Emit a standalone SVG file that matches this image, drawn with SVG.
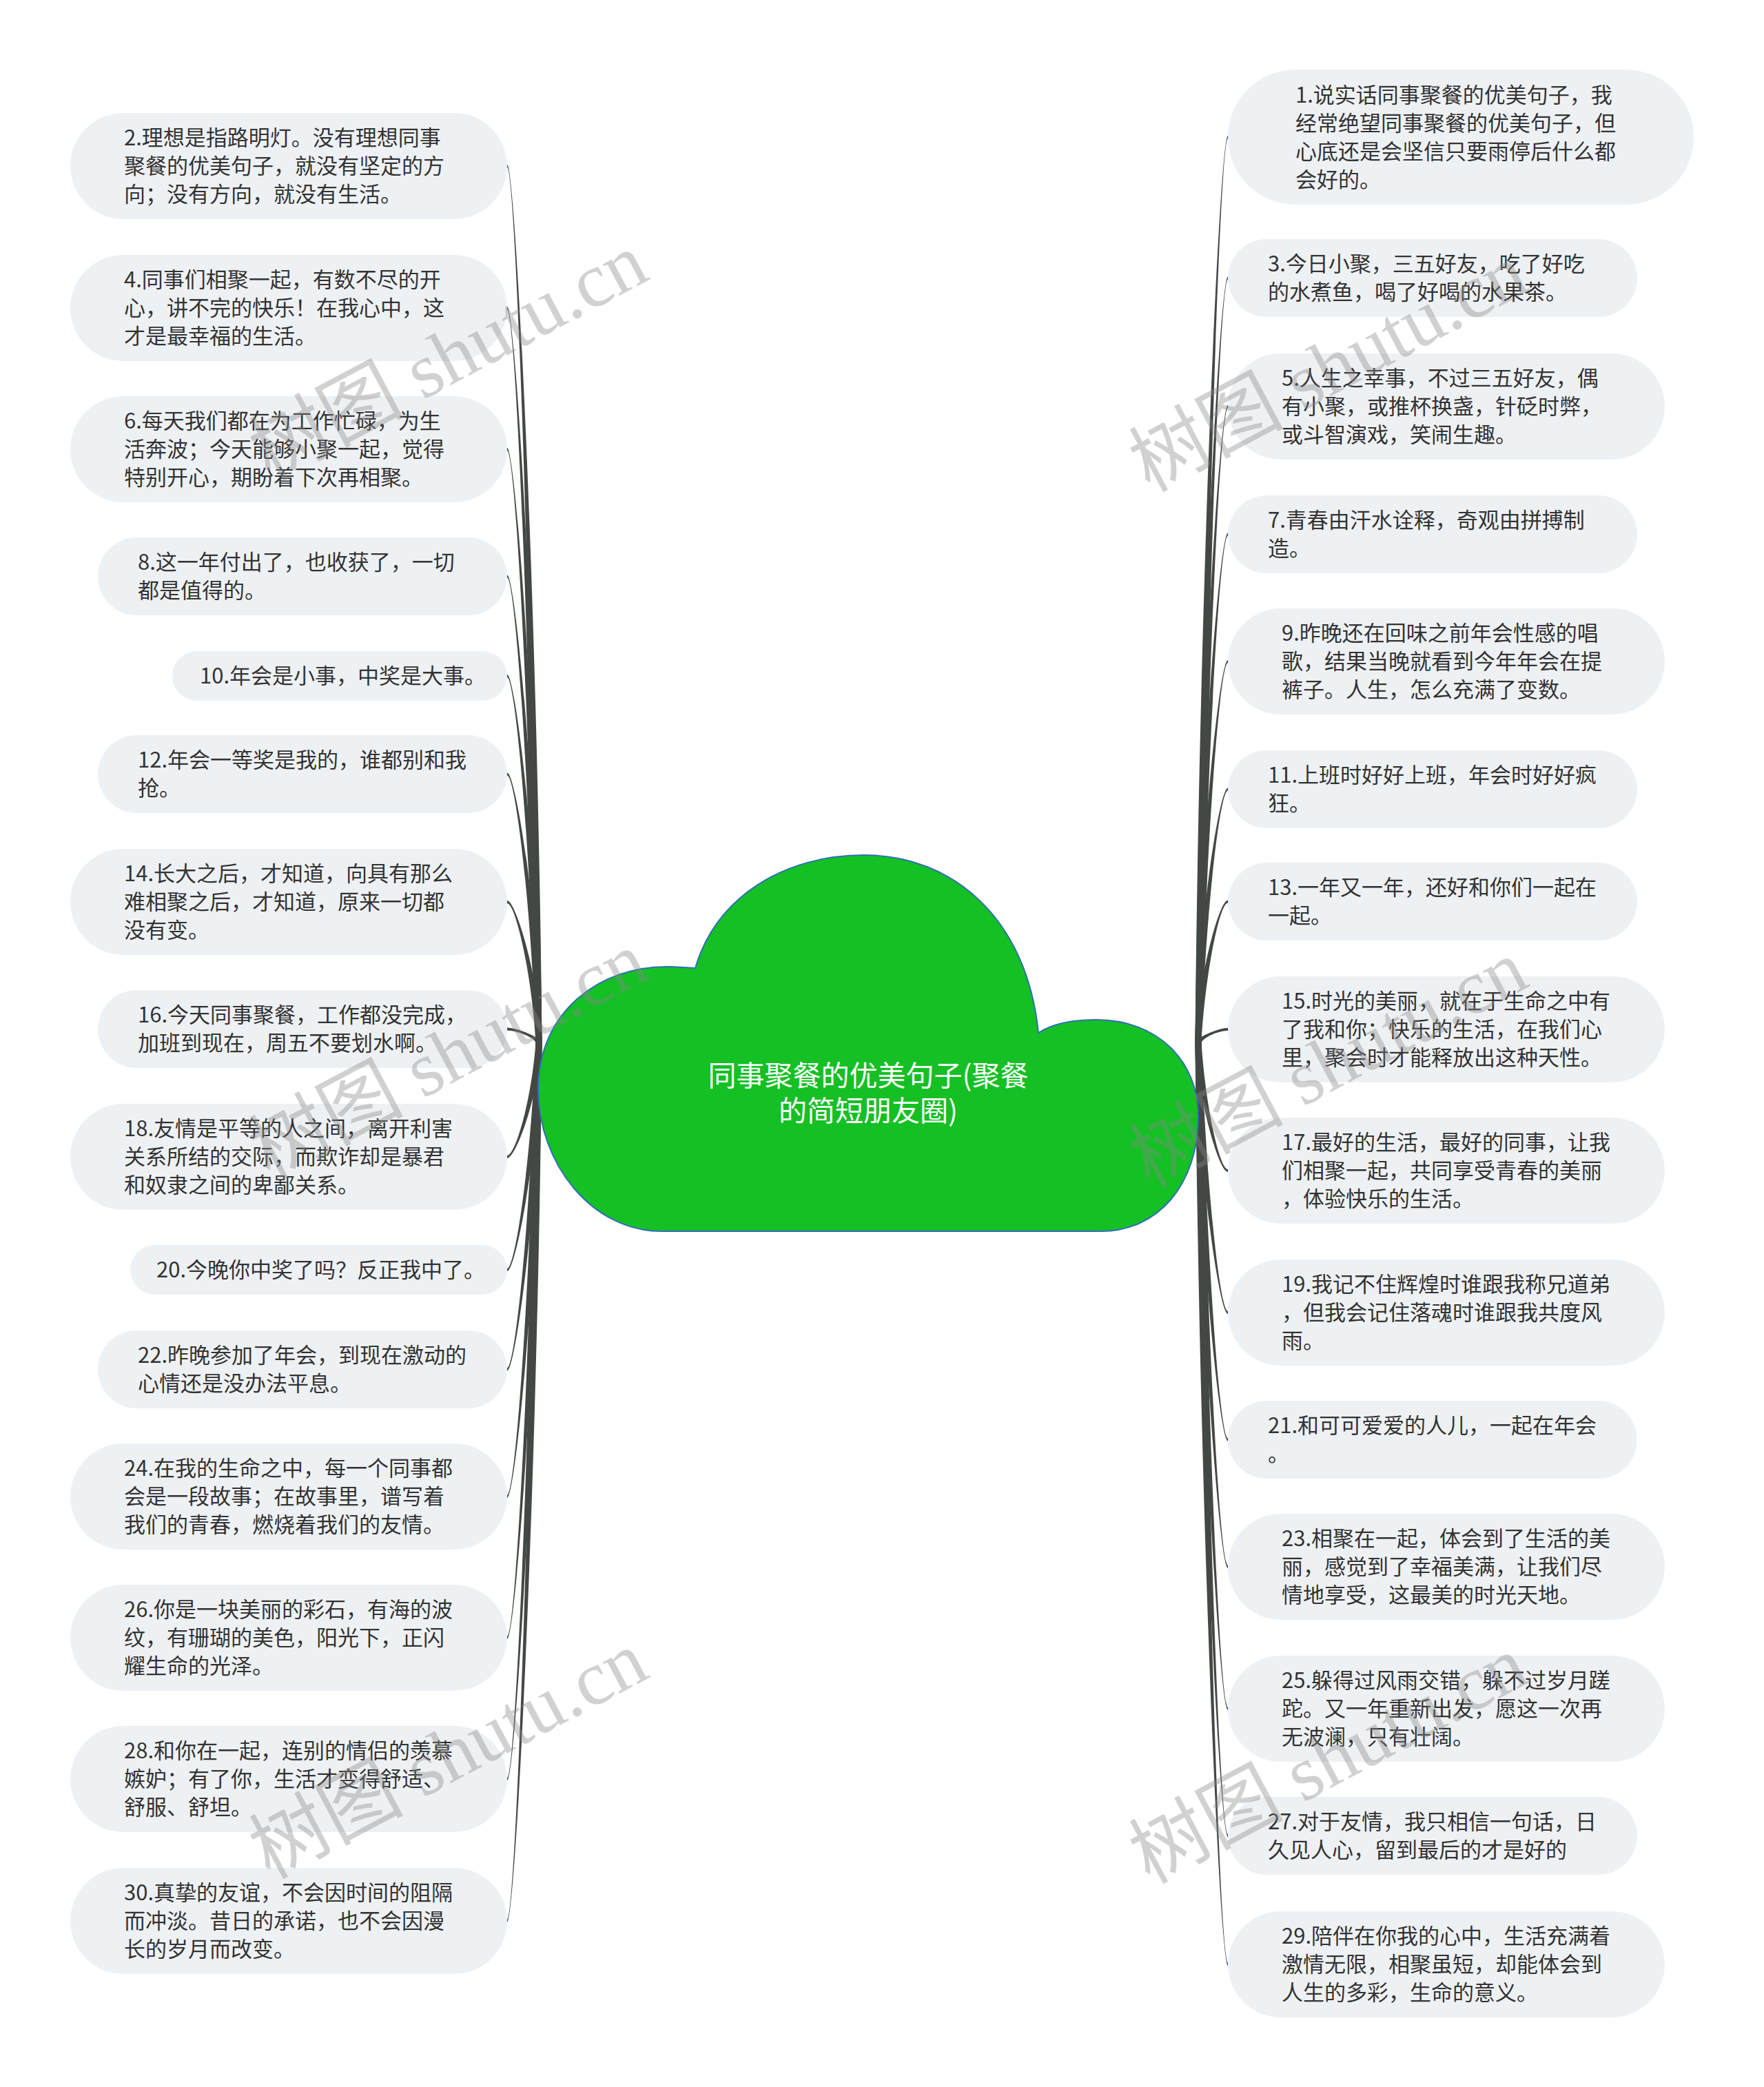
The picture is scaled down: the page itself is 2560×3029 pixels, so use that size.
<svg xmlns="http://www.w3.org/2000/svg" width="2560" height="3029" viewBox="0 0 2560 3029">
<style>
.bg{fill:#ffffff}
.nd rect{fill:#eef1f4}
.nd text{font-family:"Noto Sans CJK SC","Noto Sans",sans-serif;font-size:31px;fill:#333333}
.ln path{fill:#444844}
.ct{font-family:"Noto Sans CJK SC","Noto Sans",sans-serif;font-size:41px;fill:#ffffff;text-anchor:middle}
.wm{font-family:"Liberation Serif","Noto Sans CJK SC",serif;font-size:112px;fill:#888888;opacity:0.38}
</style>
<rect class="bg" x="0" y="0" width="2560" height="3029"/>
<g id="connectors" class="ln">
<path d="M736 239C748 239 780.5 877 786.5 1513L777.5 1513C771.5 877 748 243 736 243Z"/>
<path d="M736 445C748 445 780.5 980 786.5 1513L777.5 1513C771.5 980 748 449 736 449Z"/>
<path d="M736 650C748 650 780.5 1082.5 786.5 1513L777.5 1513C771.5 1082.5 748 654 736 654Z"/>
<path d="M736 834.5C748 834.5 780.5 1174.8 786.5 1513L777.5 1513C771.5 1174.8 748 838.5 736 838.5Z"/>
<path d="M736 979C748 979 780.5 1247 786.5 1513L777.5 1513C771.5 1247 748 983 736 983Z"/>
<path d="M736 1121.5C748 1121.5 780.5 1318.3 786.5 1513L777.5 1513C771.5 1318.3 748 1125.5 736 1125.5Z"/>
<path d="M736 1307C748 1307 780.5 1411 786.5 1513L777.5 1513C771.5 1411 748 1311 736 1311Z"/>
<path d="M736 1491.5C748 1491.5 780.5 1503.3 786.5 1513L777.5 1513C771.5 1503.3 748 1495.5 736 1495.5Z"/>
<path d="M736 1677C748 1677 771.5 1596 777.5 1513L786.5 1513C780.5 1596 748 1681 736 1681Z"/>
<path d="M736 1841C748 1841 771.5 1678 777.5 1513L786.5 1513C780.5 1678 748 1845 736 1845Z"/>
<path d="M736 1985.5C748 1985.5 771.5 1750.3 777.5 1513L786.5 1513C780.5 1750.3 748 1989.5 736 1989.5Z"/>
<path d="M736 2170C748 2170 771.5 1842.5 777.5 1513L786.5 1513C780.5 1842.5 748 2174 736 2174Z"/>
<path d="M736 2375C748 2375 771.5 1945 777.5 1513L786.5 1513C780.5 1945 748 2379 736 2379Z"/>
<path d="M736 2580C748 2580 771.5 2047.5 777.5 1513L786.5 1513C780.5 2047.5 748 2584 736 2584Z"/>
<path d="M736 2786C748 2786 771.5 2150.5 777.5 1513L786.5 1513C780.5 2150.5 748 2790 736 2790Z"/>
<path d="M1782 197C1770 197 1740.5 856 1734.5 1513L1743.5 1513C1749.5 856 1770 201 1782 201Z"/>
<path d="M1782 401.5C1770 401.5 1740.5 958.3 1734.5 1513L1743.5 1513C1749.5 958.3 1770 405.5 1782 405.5Z"/>
<path d="M1782 588C1770 588 1740.5 1051.5 1734.5 1513L1743.5 1513C1749.5 1051.5 1770 592 1782 592Z"/>
<path d="M1782 773.5C1770 773.5 1740.5 1144.3 1734.5 1513L1743.5 1513C1749.5 1144.3 1770 777.5 1782 777.5Z"/>
<path d="M1782 958C1770 958 1740.5 1236.5 1734.5 1513L1743.5 1513C1749.5 1236.5 1770 962 1782 962Z"/>
<path d="M1782 1143.5C1770 1143.5 1740.5 1329.3 1734.5 1513L1743.5 1513C1749.5 1329.3 1770 1147.5 1782 1147.5Z"/>
<path d="M1782 1306.5C1770 1306.5 1740.5 1410.8 1734.5 1513L1743.5 1513C1749.5 1410.8 1770 1310.5 1782 1310.5Z"/>
<path d="M1782 1492C1770 1492 1740.5 1503.5 1734.5 1513L1743.5 1513C1749.5 1503.5 1770 1496 1782 1496Z"/>
<path d="M1782 1697C1770 1697 1749.5 1606 1743.5 1513L1734.5 1513C1740.5 1606 1770 1701 1782 1701Z"/>
<path d="M1782 1903C1770 1903 1749.5 1709 1743.5 1513L1734.5 1513C1740.5 1709 1770 1907 1782 1907Z"/>
<path d="M1782 2087.5C1770 2087.5 1749.5 1801.3 1743.5 1513L1734.5 1513C1740.5 1801.3 1770 2091.5 1782 2091.5Z"/>
<path d="M1782 2272C1770 2272 1749.5 1893.5 1743.5 1513L1734.5 1513C1740.5 1893.5 1770 2276 1782 2276Z"/>
<path d="M1782 2478C1770 2478 1749.5 1996.5 1743.5 1513L1734.5 1513C1740.5 1996.5 1770 2482 1782 2482Z"/>
<path d="M1782 2662.5C1770 2662.5 1749.5 2088.8 1743.5 1513L1734.5 1513C1740.5 2088.8 1770 2666.5 1782 2666.5Z"/>
<path d="M1782 2849C1770 2849 1749.5 2182 1743.5 1513L1734.5 1513C1740.5 2182 1770 2853 1782 2853Z"/>
</g>
<g id="center">
<path d="M960 1787C860 1787 781 1690 781 1580C781 1470 870 1400 974 1403L1009 1405C1040 1300 1140 1241 1254 1241C1380 1241 1490 1330 1507 1499C1530 1484 1560 1480 1591 1480C1680 1480 1739 1540 1739 1620C1739 1720 1680 1787 1598 1787Z" fill="#14c024" stroke="#2f6fb8" stroke-width="2"/>
<text class="ct" x="1260" y="1576">同事聚餐的优美句子(聚餐<tspan x="1260" dy="51">的简短朋友圈)</tspan></text>
</g>
<g id="n2" class="nd"><rect x="102" y="164" width="634" height="154" rx="77"/><text x="180" y="211">2.理想是指路明灯。没有理想同事<tspan x="180" dy="41">聚餐的优美句子，就没有坚定的方</tspan><tspan x="180" dy="41">向；没有方向，就没有生活。</tspan></text></g>
<g id="n4" class="nd"><rect x="102" y="370" width="634" height="154" rx="77"/><text x="180" y="417">4.同事们相聚一起，有数不尽的开<tspan x="180" dy="41">心，讲不完的快乐！在我心中，这</tspan><tspan x="180" dy="41">才是最幸福的生活。</tspan></text></g>
<g id="n6" class="nd"><rect x="102" y="575" width="634" height="154" rx="77"/><text x="180" y="622">6.每天我们都在为工作忙碌，为生<tspan x="180" dy="41">活奔波；今天能够小聚一起，觉得</tspan><tspan x="180" dy="41">特别开心，期盼着下次再相聚。</tspan></text></g>
<g id="n8" class="nd"><rect x="142" y="780" width="594" height="113" rx="56.5"/><text x="200" y="827">8.这一年付出了，也收获了，一切<tspan x="200" dy="41">都是值得的。</tspan></text></g>
<g id="n10" class="nd"><rect x="250" y="945" width="486" height="72" rx="36"/><text x="290" y="992">10.年会是小事，中奖是大事。</text></g>
<g id="n12" class="nd"><rect x="142" y="1067" width="594" height="113" rx="56.5"/><text x="200" y="1114">12.年会一等奖是我的，谁都别和我<tspan x="200" dy="41">抢。</tspan></text></g>
<g id="n14" class="nd"><rect x="102" y="1232" width="634" height="154" rx="77"/><text x="180" y="1279">14.长大之后，才知道，向具有那么<tspan x="180" dy="41">难相聚之后，才知道，原来一切都</tspan><tspan x="180" dy="41">没有变。</tspan></text></g>
<g id="n16" class="nd"><rect x="142" y="1437" width="594" height="113" rx="56.5"/><text x="200" y="1484">16.今天同事聚餐，工作都没完成，<tspan x="200" dy="41">加班到现在，周五不要划水啊。</tspan></text></g>
<g id="n18" class="nd"><rect x="102" y="1602" width="634" height="154" rx="77"/><text x="180" y="1649">18.友情是平等的人之间，离开利害<tspan x="180" dy="41">关系所结的交际，而欺诈却是暴君</tspan><tspan x="180" dy="41">和奴隶之间的卑鄙关系。</tspan></text></g>
<g id="n20" class="nd"><rect x="189" y="1807" width="547" height="72" rx="36"/><text x="227" y="1854">20.今晚你中奖了吗？反正我中了。</text></g>
<g id="n22" class="nd"><rect x="142" y="1931" width="594" height="113" rx="56.5"/><text x="200" y="1978">22.昨晚参加了年会，到现在激动的<tspan x="200" dy="41">心情还是没办法平息。</tspan></text></g>
<g id="n24" class="nd"><rect x="102" y="2095" width="634" height="154" rx="77"/><text x="180" y="2142">24.在我的生命之中，每一个同事都<tspan x="180" dy="41">会是一段故事；在故事里，谱写着</tspan><tspan x="180" dy="41">我们的青春，燃烧着我们的友情。</tspan></text></g>
<g id="n26" class="nd"><rect x="102" y="2300" width="634" height="154" rx="77"/><text x="180" y="2347">26.你是一块美丽的彩石，有海的波<tspan x="180" dy="41">纹，有珊瑚的美色，阳光下，正闪</tspan><tspan x="180" dy="41">耀生命的光泽。</tspan></text></g>
<g id="n28" class="nd"><rect x="102" y="2505" width="634" height="154" rx="77"/><text x="180" y="2552">28.和你在一起，连别的情侣的羡慕<tspan x="180" dy="41">嫉妒；有了你，生活才变得舒适、</tspan><tspan x="180" dy="41">舒服、舒坦。</tspan></text></g>
<g id="n30" class="nd"><rect x="102" y="2711" width="634" height="154" rx="77"/><text x="180" y="2758">30.真挚的友谊，不会因时间的阻隔<tspan x="180" dy="41">而冲淡。昔日的承诺，也不会因漫</tspan><tspan x="180" dy="41">长的岁月而改变。</tspan></text></g>
<g id="n1" class="nd"><rect x="1782" y="101" width="676" height="196" rx="98"/><text x="1880" y="148.5">1.说实话同事聚餐的优美句子，我<tspan x="1880" dy="41">经常绝望同事聚餐的优美句子，但</tspan><tspan x="1880" dy="41">心底还是会坚信只要雨停后什么都</tspan><tspan x="1880" dy="41">会好的。</tspan></text></g>
<g id="n3" class="nd"><rect x="1782" y="347" width="594" height="113" rx="56.5"/><text x="1840" y="394">3.今日小聚，三五好友，吃了好吃<tspan x="1840" dy="41">的水煮鱼，喝了好喝的水果茶。</tspan></text></g>
<g id="n5" class="nd"><rect x="1782" y="513" width="634" height="154" rx="77"/><text x="1860" y="560">5.人生之幸事，不过三五好友，偶<tspan x="1860" dy="41">有小聚，或推杯换盏，针砭时弊，</tspan><tspan x="1860" dy="41">或斗智演戏，笑闹生趣。</tspan></text></g>
<g id="n7" class="nd"><rect x="1782" y="719" width="594" height="113" rx="56.5"/><text x="1840" y="766">7.青春由汗水诠释，奇观由拼搏制<tspan x="1840" dy="41">造。</tspan></text></g>
<g id="n9" class="nd"><rect x="1782" y="883" width="634" height="154" rx="77"/><text x="1860" y="930">9.昨晚还在回味之前年会性感的唱<tspan x="1860" dy="41">歌，结果当晚就看到今年年会在提</tspan><tspan x="1860" dy="41">裤子。人生，怎么充满了变数。</tspan></text></g>
<g id="n11" class="nd"><rect x="1782" y="1089" width="594" height="113" rx="56.5"/><text x="1840" y="1136">11.上班时好好上班，年会时好好疯<tspan x="1840" dy="41">狂。</tspan></text></g>
<g id="n13" class="nd"><rect x="1782" y="1252" width="594" height="113" rx="56.5"/><text x="1840" y="1299">13.一年又一年，还好和你们一起在<tspan x="1840" dy="41">一起。</tspan></text></g>
<g id="n15" class="nd"><rect x="1782" y="1417" width="634" height="154" rx="77"/><text x="1860" y="1464">15.时光的美丽，就在于生命之中有<tspan x="1860" dy="41">了我和你；快乐的生活，在我们心</tspan><tspan x="1860" dy="41">里，聚会时才能释放出这种天性。</tspan></text></g>
<g id="n17" class="nd"><rect x="1782" y="1622" width="634" height="154" rx="77"/><text x="1860" y="1669">17.最好的生活，最好的同事，让我<tspan x="1860" dy="41">们相聚一起，共同享受青春的美丽</tspan><tspan x="1860" dy="41">，体验快乐的生活。</tspan></text></g>
<g id="n19" class="nd"><rect x="1782" y="1828" width="634" height="154" rx="77"/><text x="1860" y="1875">19.我记不住辉煌时谁跟我称兄道弟<tspan x="1860" dy="41">，但我会记住落魂时谁跟我共度风</tspan><tspan x="1860" dy="41">雨。</tspan></text></g>
<g id="n21" class="nd"><rect x="1782" y="2033" width="594" height="113" rx="56.5"/><text x="1840" y="2080">21.和可可爱爱的人儿，一起在年会<tspan x="1840" dy="41">。</tspan></text></g>
<g id="n23" class="nd"><rect x="1782" y="2197" width="634" height="154" rx="77"/><text x="1860" y="2244">23.相聚在一起，体会到了生活的美<tspan x="1860" dy="41">丽，感觉到了幸福美满，让我们尽</tspan><tspan x="1860" dy="41">情地享受，这最美的时光天地。</tspan></text></g>
<g id="n25" class="nd"><rect x="1782" y="2403" width="634" height="154" rx="77"/><text x="1860" y="2450">25.躲得过风雨交错，躲不过岁月蹉<tspan x="1860" dy="41">跎。又一年重新出发，愿这一次再</tspan><tspan x="1860" dy="41">无波澜，只有壮阔。</tspan></text></g>
<g id="n27" class="nd"><rect x="1782" y="2608" width="594" height="113" rx="56.5"/><text x="1840" y="2655">27.对于友情，我只相信一句话，日<tspan x="1840" dy="41">久见人心，留到最后的才是好的</tspan></text></g>
<g id="n29" class="nd"><rect x="1782" y="2774" width="634" height="154" rx="77"/><text x="1860" y="2821">29.陪伴在你我的心中，生活充满着<tspan x="1860" dy="41">激情无限，相聚虽短，却能体会到</tspan><tspan x="1860" dy="41">人生的多彩，生命的意义。</tspan></text></g>
<g id="watermark">
<text class="wm" transform="translate(391 699) rotate(-28)">树图 shutu.cn</text>
<text class="wm" transform="translate(391 1713) rotate(-28)">树图 shutu.cn</text>
<text class="wm" transform="translate(391 2728) rotate(-28)">树图 shutu.cn</text>
<text class="wm" transform="translate(1668 715) rotate(-28)">树图 shutu.cn</text>
<text class="wm" transform="translate(1668 1725) rotate(-28)">树图 shutu.cn</text>
<text class="wm" transform="translate(1668 2735) rotate(-28)">树图 shutu.cn</text>
</g>
</svg>
